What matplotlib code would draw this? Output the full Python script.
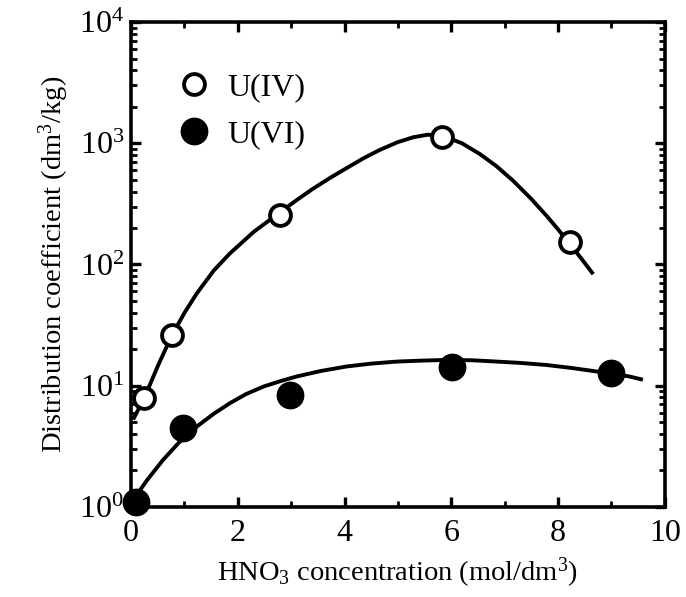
import numpy as np
import matplotlib
matplotlib.use('Agg')
import matplotlib.pyplot as plt
from matplotlib.ticker import FixedLocator, LogLocator, NullFormatter

# 設定製圖參數
plt.rcParams['font.family'] = ['Liberation Serif', 'DejaVu Serif']
plt.rcParams['mathtext.fontset'] = 'custom'
plt.rcParams['mathtext.rm'] = 'Liberation Serif'
plt.rcParams['mathtext.it'] = 'Liberation Serif:italic'

# measured points
u4_x = [0.25, 0.77, 2.79, 5.82, 8.22]
u4_y = [7.9, 26, 258, 1120, 152]
u6_x = [0.1, 0.97, 2.98, 6.01, 9.0]
u6_y = [1.1, 4.5, 8.4, 14.3, 12.8]

# fitted curves
u4_cx = [0.04, 0.26, 0.51, 0.76, 1.0, 1.23, 1.55, 1.85, 2.3, 2.79, 3.1,
         3.41, 3.75, 4.04, 4.35, 4.66, 5.0, 5.29, 5.55, 5.82, 6.2, 6.54,
         6.85, 7.16, 7.5, 7.79, 8.0, 8.22, 8.45, 8.66]
u4_cy = [5.25, 8.13, 14.8, 25.7, 39.8, 57.5, 89.1, 123, 186, 269, 339,
         422, 525, 624, 750, 881, 1023, 1122, 1175, 1161, 1000, 813,
         646, 490, 347, 251, 195, 148, 110, 83.2]
u6_cx = [0.04, 0.30, 0.60, 0.90, 1.23, 1.55, 1.85, 2.15, 2.48, 2.80, 3.10,
         3.55, 4.04, 4.50, 4.98, 5.45, 5.91, 6.40, 6.85, 7.30, 7.79, 8.25,
         8.72, 9.10, 9.34, 9.59]
u6_cy = [1.14, 1.66, 2.44, 3.40, 4.59, 5.86, 7.16, 8.50, 9.82, 10.9, 11.9,
         13.2, 14.4, 15.2, 15.8, 16.1, 16.3, 16.2, 15.8, 15.4, 14.8, 14.0,
         13.1, 12.4, 11.9, 11.2]

xticks = [0, 2, 4, 6, 8, 10]
yticks = [1, 10, 100, 1000, 10000]
ytick_labels = [r'$\mathregular{10^{%d}}$' % i for i in range(5)]

fig = plt.figure(figsize=(6.86, 5.97), dpi=100)
ax = fig.add_axes([0.191, 0.151, 0.778, 0.812])

ax.plot(u4_cx, u4_cy, color='black', lw=2.8, solid_capstyle='butt',
        solid_joinstyle='round', zorder=2)
ax.plot(u6_cx, u6_cy, color='black', lw=2.8, solid_capstyle='butt',
        solid_joinstyle='round', zorder=2)
ax.plot(u4_x, u4_y, 'o', ms=15, mfc='white', mec='black', mew=2.8,
        label='U(IV)', zorder=3, clip_on=False)
ax.plot(u6_x, u6_y, 'o', ms=19, mfc='black', mec='black',
        label='U(VI)', zorder=3, clip_on=False)

ax.set_yscale('log')
ax.set_xlim(0, 10)
ax.set_ylim(1, 10000)
ax.set_xticks(xticks)
ax.set_xticklabels([str(t) for t in xticks])
ax.xaxis.set_minor_locator(FixedLocator([1, 3, 5, 7, 9]))
ax.set_yticks(yticks)
ax.set_yticklabels(ytick_labels)
ax.yaxis.set_minor_locator(LogLocator(base=10, subs=np.arange(2, 10)))
ax.yaxis.set_minor_formatter(NullFormatter())

for s in ax.spines.values():
    s.set_linewidth(2.6)
ax.tick_params(which='major', direction='in', length=7, width=2.4,
               top=True, right=True, labelsize=23)
ax.tick_params(which='minor', direction='in', length=4, width=2.0,
               top=True, right=True)
ax.tick_params(axis='x', which='major', pad=9)
ax.tick_params(axis='y', which='major', pad=5)

ax.set_xlabel(r'HNO$_3$ concentration (mol/dm$^3$)', fontsize=20.5, labelpad=5)
ax.set_ylabel(r'Distribution coefficient (dm$^3$/kg)', fontsize=20.5, labelpad=6)

ax.legend(loc='upper left', bbox_to_anchor=(0.04, 0.955), frameon=False,
          fontsize=23, handlelength=0.8, handletextpad=0.65,
          labelspacing=0.55, markerscale=1.0)

fig.savefig('out.png', dpi=100)
